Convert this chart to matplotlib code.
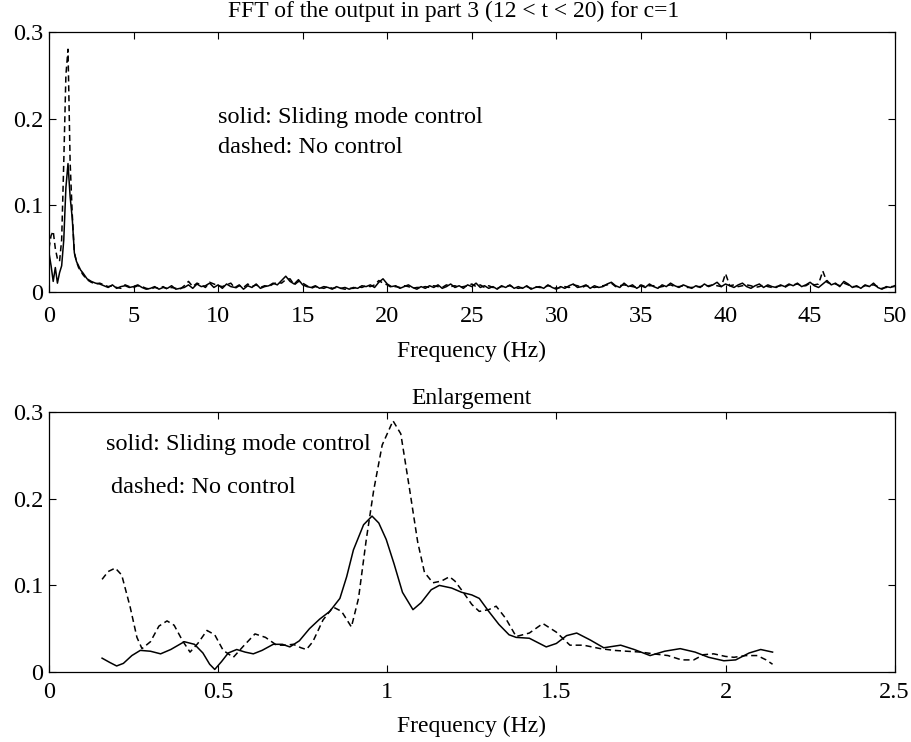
import numpy as np
import matplotlib
matplotlib.use('Agg')
import matplotlib.pyplot as plt

plt.rcParams['font.family'] = 'Liberation Serif'

#============================================
# top panel: full FFT 0-50 Hz
# low frequency part (peak region)
top_freq_low = [0, 0.125, 0.25, 0.375, 0.5, 0.625, 0.75, 0.875, 1.0, 1.125,
                1.25, 1.375, 1.5, 1.625, 1.75, 1.875, 2.0, 2.25, 2.5, 2.75]
top_solid_low = [0.045, 0.030, 0.012, 0.028, 0.010, 0.022, 0.030, 0.060, 0.120, 0.148,
                 0.110, 0.085, 0.045, 0.035, 0.030, 0.025, 0.022, 0.015, 0.012, 0.010]
top_dashed_low = [0.050, 0.065, 0.070, 0.050, 0.038, 0.035, 0.060, 0.150, 0.250, 0.280,
                  0.150, 0.090, 0.045, 0.035, 0.028, 0.024, 0.020, 0.014, 0.011, 0.009]

# noise floor 3-50 Hz every 0.25 Hz, in 1/1000 units
top_solid_noise = [
    9, 7, 5, 8, 4, 6, 7, 5, 6, 8, 5, 3, 4, 6, 3, 5, 4, 7, 3, 4,
    5, 8, 4, 9, 6, 7, 10, 5, 8, 4, 9, 6, 5, 8, 3, 7, 5, 9, 4, 6,
    7, 10, 8, 13, 18, 12, 9, 14, 8, 6, 5, 7, 4, 6, 5, 3, 6, 4, 5, 3,
    5, 4, 7, 6, 8, 5, 11, 15, 9, 6, 7, 4, 6, 8, 5, 3, 6, 4, 7, 5,
    8, 4, 6, 9, 5, 7, 4, 8, 6, 10, 5, 7, 4, 6, 3, 7, 5, 8, 4, 6,
    4, 7, 3, 5, 6, 4, 8, 5, 3, 6, 4, 7, 9, 5, 6, 8, 4, 7, 5, 6,
    9, 11, 7, 5, 10, 6, 8, 4, 7, 5, 9, 6, 4, 8, 6, 10, 7, 5, 8, 6,
    4, 7, 5, 9, 6, 8, 11, 6, 9, 7, 5, 8, 10, 6, 4, 7, 9, 5, 8, 6,
    5, 8, 6, 9, 7, 10, 6, 8, 11, 7, 5, 9, 13, 8, 10, 6, 12, 9, 5, 7,
    4, 8, 6, 10, 5, 3, 6, 5, 7]
top_dashed_noise = [
    10, 8, 6, 7, 5, 4, 8, 6, 5, 7, 6, 4, 3, 5, 4, 6, 3, 5, 4, 3,
    7, 12, 6, 10, 8, 5, 11, 9, 7, 6, 8, 10, 4, 7, 5, 9, 6, 8, 5, 7,
    6, 9, 11, 10, 14, 15, 8, 12, 10, 7, 4, 6, 5, 4, 6, 4, 5, 4, 3, 4,
    4, 6, 5, 7, 6, 8, 13, 10, 8, 5, 6, 5, 7, 6, 4, 5, 5, 6, 5, 7,
    6, 5, 8, 6, 7, 5, 6, 7, 9, 6, 8, 5, 7, 5, 4, 6, 6, 7, 5, 4,
    5, 6, 4, 6, 5, 5, 7, 6, 4, 5, 6, 5, 8, 7, 5, 7, 6, 5, 6, 7,
    8, 10, 6, 7, 8, 7, 6, 5, 8, 6, 7, 7, 5, 6, 7, 8, 6, 6, 7, 5,
    5, 6, 6, 7, 7, 8, 7, 6, 21, 7, 8, 6, 7, 8, 7, 5, 6, 8, 6, 5,
    6, 7, 5, 8, 8, 9, 7, 7, 10, 8, 9, 24, 11, 9, 9, 7, 10, 8, 6, 6,
    5, 7, 7, 8, 6, 4, 5, 6, 6]
top_freq_noise = np.arange(3.0, 50.01, 0.25)

#============================================
# bottom panel: enlargement 0-2.5 Hz
enl_freq_solid = [0.157, 0.18, 0.20, 0.22, 0.245, 0.27, 0.30, 0.33, 0.36, 0.40,
                  0.43, 0.455, 0.475, 0.49, 0.51, 0.53, 0.555, 0.58, 0.604, 0.63,
                  0.663, 0.69, 0.712, 0.74, 0.77, 0.80, 0.83, 0.86, 0.88, 0.90,
                  0.93, 0.955, 0.975, 0.997, 1.02, 1.045, 1.076, 1.10, 1.13, 1.154,
                  1.19, 1.22, 1.25, 1.272, 1.30, 1.33, 1.36, 1.381, 1.42, 1.45,
                  1.47, 1.50, 1.53, 1.56, 1.60, 1.64, 1.69, 1.73, 1.777, 1.82,
                  1.866, 1.91, 1.95, 1.995, 2.03, 2.07, 2.104, 2.139]
enl_solid = [0.016, 0.011, 0.007, 0.010, 0.019, 0.025, 0.024, 0.021, 0.026, 0.035,
             0.032, 0.022, 0.009, 0.003, 0.012, 0.022, 0.026, 0.023, 0.021, 0.025,
             0.032, 0.032, 0.029, 0.036, 0.050, 0.061, 0.070, 0.085, 0.110, 0.141,
             0.170, 0.180, 0.172, 0.153, 0.125, 0.092, 0.072, 0.080, 0.095, 0.100,
             0.097, 0.092, 0.089, 0.085, 0.070, 0.055, 0.043, 0.040, 0.039, 0.033,
             0.029, 0.033, 0.042, 0.045, 0.037, 0.028, 0.031, 0.026, 0.019, 0.024,
             0.027, 0.023, 0.017, 0.013, 0.014, 0.022, 0.026, 0.023]

enl_freq_dashed = [0.157, 0.175, 0.196, 0.215, 0.24, 0.26, 0.275, 0.30, 0.325, 0.349,
                   0.37, 0.395, 0.417, 0.44, 0.467, 0.49, 0.515, 0.545, 0.575, 0.609,
                   0.64, 0.673, 0.70, 0.722, 0.745, 0.761, 0.78, 0.81, 0.84, 0.865,
                   0.894, 0.915, 0.938, 0.96, 0.985, 1.017, 1.04, 1.066, 1.09, 1.11,
                   1.135, 1.16, 1.184, 1.20, 1.223, 1.25, 1.272, 1.30, 1.322, 1.35,
                   1.381, 1.42, 1.46, 1.50, 1.54, 1.58, 1.63, 1.67, 1.708, 1.75,
                   1.787, 1.83, 1.87, 1.906, 1.935, 1.965, 2.00, 2.025, 2.06, 2.094,
                   2.12, 2.139]
enl_dashed = [0.107, 0.116, 0.120, 0.112, 0.075, 0.040, 0.027, 0.035, 0.053, 0.059,
              0.054, 0.036, 0.023, 0.033, 0.048, 0.043, 0.025, 0.017, 0.030, 0.044,
              0.040, 0.031, 0.031, 0.032, 0.028, 0.026, 0.035, 0.060, 0.075, 0.070,
              0.052, 0.085, 0.153, 0.210, 0.262, 0.290, 0.275, 0.211, 0.150, 0.115,
              0.103, 0.105, 0.110, 0.105, 0.093, 0.078, 0.070, 0.072, 0.076, 0.062,
              0.041, 0.045, 0.056, 0.046, 0.031, 0.031, 0.027, 0.025, 0.024, 0.023,
              0.021, 0.019, 0.014, 0.014, 0.020, 0.021, 0.018, 0.017, 0.019, 0.019,
              0.014, 0.009]

#============================================
top_freq = np.concatenate([top_freq_low, top_freq_noise])
top_solid = np.concatenate([top_solid_low, np.array(top_solid_noise) / 1000.0])
top_dashed = np.concatenate([top_dashed_low, np.array(top_dashed_noise) / 1000.0])

fig, ax = plt.subplots(2, 1, figsize=(9.12, 7.42), dpi=100)
fig.subplots_adjust(left=0.0537, right=0.981, top=0.957, bottom=0.0943, hspace=0.463)

dash_style = (0, (4, 2.5))
fs_tick = 17.5
fs_label = 17
fs_note = 17.5

ax[0].plot(top_freq, top_dashed, color='k', lw=1.1, linestyle=dash_style)
ax[0].plot(top_freq, top_solid, color='k', lw=1.1)
ax[0].set_xlim(0, 50)
ax[0].set_ylim(0, 0.3)
ax[0].set_xticks(np.arange(0, 51, 5))
ax[0].set_xticklabels([str(v) for v in range(0, 51, 5)])
ax[0].set_yticks([0, 0.1, 0.2, 0.3])
ax[0].set_yticklabels(['0', '0.1', '0.2', '0.3'])
ax[0].set_xlabel('Frequency (Hz)', fontsize=fs_label, labelpad=10)
ax[0].set_title('FFT of the output in part 3 (12 < t < 20) for c=1', fontsize=fs_label,
                pad=11, x=0.479)
ax[0].text(10.0, 0.195, 'solid: Sliding mode control', fontsize=fs_note)
ax[0].text(10.0, 0.160, 'dashed: No control', fontsize=fs_note)

ax[1].plot(enl_freq_dashed, enl_dashed, color='k', lw=1.1, linestyle=dash_style)
ax[1].plot(enl_freq_solid, enl_solid, color='k', lw=1.1)
ax[1].set_xlim(0, 2.5)
ax[1].set_ylim(0, 0.3)
ax[1].set_xticks([0, 0.5, 1, 1.5, 2, 2.5])
ax[1].set_xticklabels(['0', '0.5', '1', '1.5', '2', '2.5'])
ax[1].set_yticks([0, 0.1, 0.2, 0.3])
ax[1].set_yticklabels(['0', '0.1', '0.2', '0.3'])
ax[1].set_xlabel('Frequency (Hz)', fontsize=fs_label, labelpad=9.5)
ax[1].set_title('Enlargement', fontsize=fs_label, pad=6)
ax[1].text(0.17, 0.256, 'solid: Sliding mode control', fontsize=fs_note)
ax[1].text(0.182, 0.207, 'dashed: No control', fontsize=fs_note)

for a in ax:
    a.tick_params(direction='in', top=True, right=True, length=5, width=0.8,
                  labelsize=fs_tick)
    a.tick_params(axis='y', pad=4)
    for s in a.spines.values():
        s.set_linewidth(0.9)
ax[0].tick_params(axis='x', pad=10)
ax[1].tick_params(axis='x', pad=7)

plt.savefig('out.png', dpi=100)
